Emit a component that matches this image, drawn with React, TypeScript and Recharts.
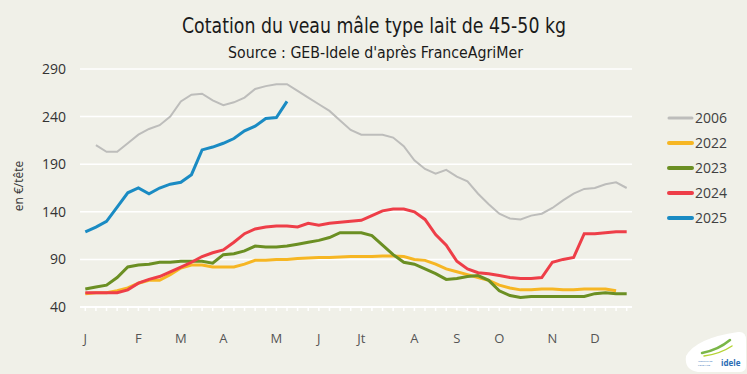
import React from 'react';
import { LineChart, Line, XAxis, YAxis, CartesianGrid } from 'recharts';

const weeks = Array.from({ length: 52 }, (_, i) => i + 1);

const monthTicks = [1, 6, 10, 14, 19, 23, 27, 32, 36, 40, 45, 49];
const monthLabels = ['J', 'F', 'M', 'A', 'M', 'J', 'Jt', 'A', 'S', 'O', 'N', 'D'];

const yTicks = [40, 90, 140, 190, 240, 290];

const v2006 = [null, 210, 203, 203, 212, 221, 227, 231, 240, 256, 263, 264, 257, 252, 255, 260, 269, 272, 274, 274, 267, 260, 253, 246, 236, 226, 221, 221, 221, 218, 209, 194, 185, 180, 184, 177, 172, 159, 148, 138, 133, 132, 136, 138, 144, 152, 159, 164, 165, 169, 171, 165];
const v2022 = [54, 55, 55, 57, 60, 65, 68, 68, 74, 81, 84, 84, 82, 82, 82, 85, 89, 89, 90, 90, 91, 91.5, 92, 92, 92.5, 93, 93, 93, 93.5, 93.5, 93, 90, 89, 85, 80, 77, 74, 71, 68, 63, 60, 58, 58, 59, 59, 58, 58, 59, 59, 59, 57, null];
const v2023 = [59, 61, 63, 71, 82, 84, 85, 87, 87, 88, 88, 88, 86, 95, 96, 99, 104, 103, 103, 104, 106, 108, 110, 113, 118, 118, 118, 115, 105, 95, 87, 85, 80, 75, 69, 70, 72, 73, 68, 57, 52, 50, 51, 51, 51, 51, 51, 51, 54, 55, 54, 54];
const v2024 = [55, 55, 55, 55, 58, 65, 69, 72, 77, 82, 87, 93, 97, 100, 108, 117, 122, 124, 125, 125, 124, 128, 126, 128, 129, 130, 131, 136, 141, 143, 143, 140, 132, 116, 105, 88, 80, 76, 75, 73, 71, 70, 70, 71, 87, 90, 92, 117, 117, 118, 119, 119];
const v2025 = [119, 124, 130, 145, 160, 165, 159, 165, 169, 171, 179, 205, 208, 212, 217, 225, 230, 238, 239, 256];

const series = [
  { key: 'y2006', name: '2006', color: '#bdbdbb', width: 2, values: v2006 },
  { key: 'y2022', name: '2022', color: '#f6b623', width: 3, values: v2022 },
  { key: 'y2023', name: '2023', color: '#6b8f23', width: 3, values: v2023 },
  { key: 'y2024', name: '2024', color: '#ee3e48', width: 3, values: v2024 },
  { key: 'y2025', name: '2025', color: '#1a8bc3', width: 3, values: v2025 },
];

const data = weeks.map((w, i) => {
  const row: any = { week: w };
  series.forEach(s => {
    row[s.key] = s.values[i] ?? null;
  });
  return row;
});

const BG = '#f0f0e8';
const FONT = "'Open Sans', 'Noto Sans', sans-serif";
const TITLE_FONT = "'DejaVu Sans Condensed', 'DejaVu Sans', sans-serif";

const MonthTick = ({ x, y, payload }: any) => {
  const idx = monthTicks.indexOf(payload.value);
  if (idx < 0) return null;
  return (
    <text x={x} y={y} dy={30} textAnchor="middle" fill="#555" fontSize={13} fontFamily={FONT}>
      {monthLabels[idx]}
    </text>
  );
};

export default function App() {
  return (
    <div style={{ position: 'absolute', left: 0, top: 0, width: 747, height: 374, background: BG }}>
      <LineChart
        width={747}
        height={374}
        data={data}
        margin={{ top: 69, right: 115, bottom: 37, left: 0 }}
      >
        <CartesianGrid vertical={false} stroke="#ffffff" strokeWidth={1.5} />
        <XAxis
          dataKey="week"
          type="number"
          domain={[0.5, 52.5]}
          ticks={weeks}
          interval={0}
          height={30}
          axisLine={{ stroke: '#ffffff', strokeWidth: 2 }}
          tickLine={{ stroke: '#ffffff', strokeWidth: 1.5 }}
          tickSize={4}
          tick={<MonthTick />}
        />
        <YAxis
          type="number"
          domain={[40, 290]}
          ticks={yTicks}
          width={80}
          axisLine={false}
          tickLine={false}
          tickMargin={8}
          tick={{ fill: '#333', fontSize: 14, fontFamily: FONT }}
        />
        {series.map(s => (
          <Line
            key={s.key}
            dataKey={s.key}
            type="linear"
            stroke={s.color}
            strokeWidth={s.width}
            dot={false}
            activeDot={false}
            isAnimationActive={false}
          />
        ))}
      </LineChart>
      <svg width={747} height={374} style={{ position: 'absolute', left: 0, top: 0, pointerEvents: 'none' }}>
        <text
          x={182}
          y={33}
          fontSize={21}
          fill="#1a1a1a"
          fontFamily={TITLE_FONT}
          style={{ fontStretch: 'condensed' }}
          textLength={384}
          lengthAdjust="spacingAndGlyphs"
        >
          Cotation du veau mâle type lait de 45-50 kg
        </text>
        <text
          x={228}
          y={58}
          fontSize={15}
          fill="#1a1a1a"
          fontFamily={TITLE_FONT}
          style={{ fontStretch: 'condensed' }}
          textLength={295}
          lengthAdjust="spacingAndGlyphs"
        >
          Source : GEB-Idele d'après FranceAgriMer
        </text>
        <text
          x={23}
          y={186}
          transform="rotate(-90 23 186)"
          textAnchor="middle"
          fontSize={12}
          fill="#333"
          fontFamily={FONT}
        >
          en €/tête
        </text>
        {series.map((s, i) => {
          const cy = 118 + i * 25;
          return (
            <g key={s.key}>
              <line x1={669} x2={692} y1={cy} y2={cy} stroke={s.color} strokeWidth={s.width + 1} strokeLinecap="round" />
              <text x={695} y={cy + 5} fontSize={14} fill="#404040" fontFamily={FONT}>
                {s.name}
              </text>
            </g>
          );
        })}
        {/* logo Idele, approximatif */}
        <g>
          <path d="M686 356 Q 696 338 738 332 Q 746 331 746 340 L 746 366 Q 746 372 739 372 L 698 372 Q 684 370 686 356 Z" fill="#ffffff" />
          <path d="M702 353 Q 718 350 730 340" stroke="#7ab648" strokeWidth={2.5} fill="none" strokeLinecap="round" />
          <path d="M704 356 Q 720 354 732 346" stroke="#b5d334" strokeWidth={1.5} fill="none" strokeLinecap="round" />
          <text x={698} y={362} fontSize={2.5} fill="#2a6db5" fontFamily={FONT}>INSTITUT DE</text>
          <text x={698} y={365.5} fontSize={2.5} fill="#2a6db5" fontFamily={FONT}>L'ÉLEVAGE</text>
          <text x={721} y={366} fontSize={8} fontWeight="bold" fill="#2a6db5" fontFamily={FONT}>idele</text>
        </g>
      </svg>
    </div>
  );
}
